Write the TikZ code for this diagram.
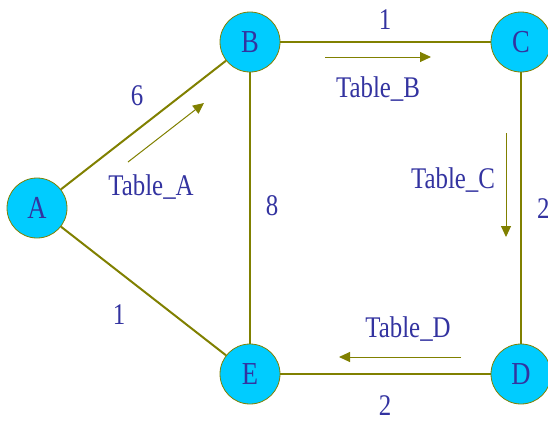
\documentclass[tikz,border=0pt]{standalone}
\usepackage{fontspec}
\setmainfont{Liberation Serif}
\newfontfamily\diagfont[FakeStretch=0.83]{Liberation Serif}
\usetikzlibrary{arrows.meta}
\definecolor{vertexfill}{RGB}{0,204,255}
\definecolor{edgeolive}{RGB}{128,128,0}
\definecolor{labelblue}{RGB}{51,51,160}

\begin{document}
\begin{tikzpicture}[x=1pt,y=-1pt,
    vertex/.style={circle,fill=vertexfill,draw=edgeolive,line width=0.8pt,minimum size=60pt,inner sep=0pt,text=labelblue,font=\diagfont\fontsize{32}{32}\selectfont},
    edge/.style={edgeolive,line width=2pt},
    tablearrow/.style={edgeolive,line width=1pt,-{Triangle[length=11pt,width=10pt]}},
    lbl/.style={text=labelblue,font=\diagfont\fontsize{30}{30}\selectfont,inner sep=0pt,anchor=base}]
  \useasboundingbox (0,0) rectangle (548,421);
  % vertices
  \node[vertex] (A) at (37,208) {A};
  \node[vertex] (B) at (250,42) {B};
  \node[vertex] (C) at (521,42) {C};
  \node[vertex] (D) at (521,374) {D};
  \node[vertex] (E) at (250,374) {E};
  % edges
  \draw[edge] (A) -- (B);
  \draw[edge] (B) -- (C);
  \draw[edge] (C) -- (D);
  \draw[edge] (D) -- (E);
  \draw[edge] (E) -- (A);
  \draw[edge] (B) -- (E);
  % weights
  \node[lbl] (wAB) at (137,105) {6};
  \node[lbl] (wBC) at (385,29) {1};
  \node[lbl,anchor=base west] (wCD) at (537,218) {2};
  \node[lbl] (wDE) at (385,415) {2};
  \node[lbl] (wAE) at (119,324) {1};
  \node[lbl] (wBE) at (272,215) {8};
  % routing tables
  \node[lbl] (tA) at (151,195) {Table\_A};
  \node[lbl] (tB) at (378,97) {Table\_B};
  \node[lbl] (tC) at (453,188) {Table\_C};
  \node[lbl] (tD) at (408,337) {Table\_D};
  \coordinate (a1) at (128,162); \coordinate (a2) at (204,103);
  \coordinate (b1) at (325,57);  \coordinate (b2) at (431,57);
  \coordinate (c1) at (506,133); \coordinate (c2) at (506,237);
  \coordinate (d1) at (461,357); \coordinate (d2) at (339,357);
  \draw[tablearrow] (a1) -- (a2);
  \draw[tablearrow] (b1) -- (b2);
  \draw[tablearrow] (c1) -- (c2);
  \draw[tablearrow] (d1) -- (d2);
\end{tikzpicture}
\end{document}
